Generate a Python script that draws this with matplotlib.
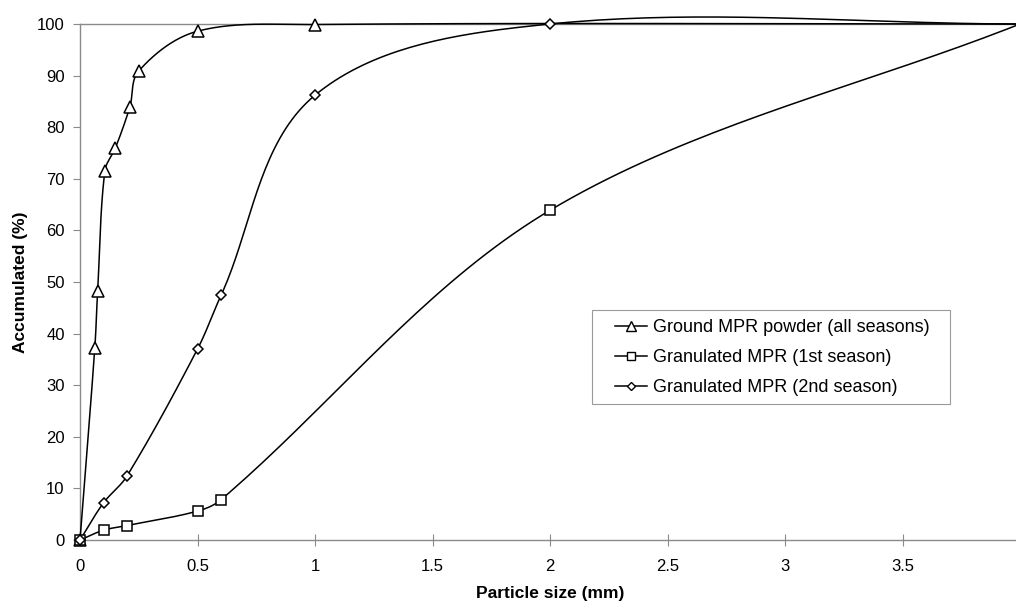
import numpy as np
import matplotlib
matplotlib.use('Agg')
import matplotlib.pyplot as plt
from matplotlib.patches import Rectangle

plt.rcParams['font.family'] = ['Liberation Sans', 'DejaVu Sans']

# Cumulative particle size distributions (mm, % accumulated)
powder_size = [0, 0.063, 0.075, 0.106, 0.15, 0.212, 0.25, 0.5, 1.0, 4.0]
powder_acc = [0, 37.2, 48.2, 71.6, 75.9, 83.9, 90.9, 98.6, 99.9, 100]

gran1_size = [0, 0.1, 0.2, 0.5, 0.6, 2.0, 4.0]
gran1_acc = [0, 1.9, 2.8, 5.6, 7.8, 63.9, 100]

gran2_size = [0, 0.1, 0.2, 0.5, 0.6, 1.0, 2.0, 4.0]
gran2_acc = [0, 7.2, 12.4, 37.0, 47.4, 86.2, 100, 100]

labels = ['Ground MPR powder (all seasons)',
          'Granulated MPR (1st season)',
          'Granulated MPR (2nd season)']
markers = ['^', 's', 'D']
msizes = [8.5, 7.5, 5.5]

x_ticks = [0, 0.5, 1, 1.5, 2, 2.5, 3, 3.5, 4]
x_tick_labels = ['0', '0.5', '1', '1.5', '2', '2.5', '3', '3.5', '4']
y_ticks = list(range(0, 101, 10))
X_MAX = 4

# rough pixels per data unit, so the smoothing works in screen proportions
SX, SY = 235.0, 5.16


def smooth(x, y, n=40):
    # smoothed line through the points: cubic Bezier per segment, tangent
    # along the neighbouring chord, handle length a third of the segment
    p = np.column_stack([np.array(x) * SX, np.array(y) * SY]).astype(float)
    m = len(p)
    tang = []
    for i in range(m):
        a = p[i - 1] if i > 0 else p[i]
        b = p[i + 1] if i < m - 1 else p[i]
        d = b - a
        tang.append(d / np.hypot(*d))
    out = [p[0]]
    t = np.linspace(0, 1, n)[1:, None]
    for i in range(m - 1):
        L = np.hypot(*(p[i + 1] - p[i]))
        c1 = p[i] + tang[i] * L / 3
        c2 = p[i + 1] - tang[i + 1] * L / 3
        seg = ((1 - t) ** 3) * p[i] + 3 * ((1 - t) ** 2) * t * c1 \
            + 3 * (1 - t) * t ** 2 * c2 + t ** 3 * p[i + 1]
        out.extend(seg)
    out = np.array(out)
    return out[:, 0] / SX, out[:, 1] / SY


fig = plt.figure(figsize=(10.16, 6.06), dpi=100)
ax = fig.add_axes([80 / 1016, 1 - 540 / 606, 940 / 1016, 516 / 606])

series = [(powder_size, powder_acc), (gran1_size, gran1_acc), (gran2_size, gran2_acc)]
for (xs, ys), lab, mk, ms in zip(series, labels, markers, msizes):
    sx, sy = smooth(xs, ys)
    ax.plot(sx, sy, color='black', lw=1.1, zorder=3, clip_on=False)
    # the point at the edge of the axis is not marked
    keep = np.array(xs) < X_MAX
    ax.plot(np.array(xs)[keep], np.array(ys)[keep], ls='none', marker=mk, ms=ms,
            mfc='white', mec='black', mew=1.1, zorder=4, clip_on=False)
    ax.plot([], [], color='black', lw=1.1, marker=mk, ms=ms * 0.8,
            mfc='white', mec='black', mew=1.0, label=lab)

ax.set_xlim(0, X_MAX)
ax.set_ylim(0, 100)
ax.set_xticks(x_ticks)
ax.set_xticklabels(x_tick_labels)
ax.set_yticks(y_ticks)

for s in ax.spines.values():
    s.set_color('#8a8a8a')
    s.set_linewidth(1.0)
ax.tick_params(axis='both', colors='#8a8a8a', labelcolor='black',
               labelsize=12, width=0.8)
ax.tick_params(axis='y', direction='out', length=5, pad=6)
ax.tick_params(axis='x', direction='inout', length=8, pad=10)

ax.set_xlabel('Particle size (mm)', fontsize=12.5, fontweight='bold', labelpad=8)
ax.set_ylabel('Accumulated (%)', fontsize=12.5, fontweight='bold')
ax.yaxis.set_label_coords((28 - 80) / 940, 0.5)

# legend box drawn separately so the side padding can be wider
ax.add_patch(Rectangle((592 / 1016, 1 - 404 / 606), 358 / 1016, 94 / 606,
                       transform=fig.transFigure, facecolor='white',
                       edgecolor='#9a9a9a', lw=0.8, zorder=5, clip_on=False))
leg = ax.legend(loc='upper left', bbox_to_anchor=((615 - 80) / 940, (540 - 319) / 516),
                fontsize=13, frameon=False, handlelength=1.78,
                handletextpad=0.3, labelspacing=0.72, borderpad=0,
                borderaxespad=0)
leg.set_zorder(6)

fig.savefig('out.png', dpi=100)
